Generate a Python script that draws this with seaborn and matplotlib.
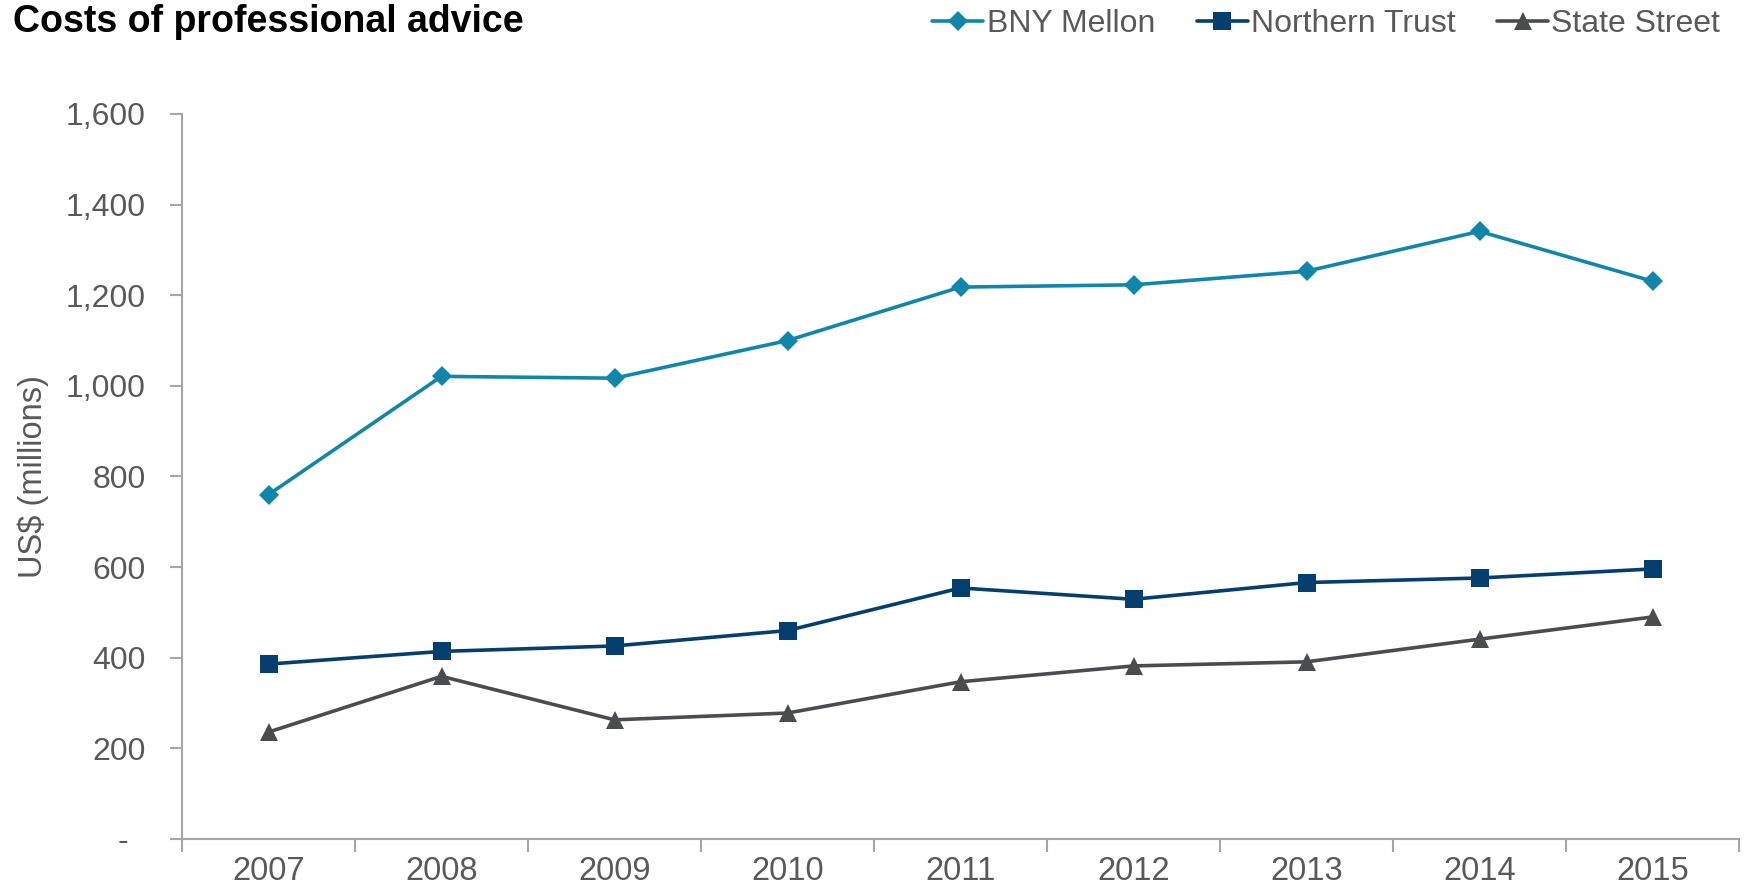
import pandas as pd
import matplotlib
matplotlib.use("Agg")
import matplotlib.pyplot as plt
import seaborn as sns
from matplotlib.ticker import FuncFormatter, MultipleLocator

# datos
years = [2007, 2008, 2009, 2010, 2011, 2012, 2013, 2014, 2015]
bny_mellon = [760, 1021, 1017, 1100, 1218, 1223, 1253, 1341, 1231]
northern_trust = [386, 414, 426, 460, 554, 529, 566, 576, 596]
state_street = [236, 359, 263, 278, 347, 382, 391, 441, 490]
banks = ["BNY Mellon", "Northern Trust", "State Street"]

df = pd.DataFrame({
    "year": years * 3,
    "value": bny_mellon + northern_trust + state_street,
    "bank": [b for b in banks for _ in years],
})

colors = {"BNY Mellon": "#0f87ad", "Northern Trust": "#053f70", "State Street": "#4b4c50"}
markers = {"BNY Mellon": "D", "Northern Trust": "s", "State Street": "^"}
sizes_mk = {"BNY Mellon": 10.5, "Northern Trust": 12.5, "State Street": 13}

sns.set_style("white")
plt.rcParams["font.family"] = ["Liberation Sans", "DejaVu Sans"]

fig = plt.figure(figsize=(17.5, 8.94), dpi=100)
ax = fig.add_axes([182 / 1750, 1 - 839 / 894, (1739 - 182) / 1750, (839 - 114) / 894])

for bank in banks:
    sns.lineplot(
        data=df[df["bank"] == bank], x="year", y="value",
        color=colors[bank], marker=markers[bank], markersize=sizes_mk[bank],
        markeredgewidth=0, linewidth=2.6, label=bank, ax=ax,
    )

gray_txt = "#595959"
ax.set_xlim(years[0] - 0.5, years[-1] + 0.5)
ax.set_ylim(0, 1600)
ax.yaxis.set_major_locator(MultipleLocator(200))
ax.yaxis.set_major_formatter(FuncFormatter(lambda v, p: "-  " if v == 0 else f"{v:,.0f}"))

# ticks en los limites de categoria, etiquetas en el centro
ax.set_xticks([y - 0.5 for y in years] + [years[-1] + 0.5])
ax.set_xticklabels([])
ax.set_xticks(years, minor=True)
ax.set_xticklabels([str(y) for y in years], minor=True)
ax.tick_params(axis="x", which="major", bottom=True, direction="out", length=9, width=1.5, color="#a6a6a6")
ax.tick_params(axis="x", which="minor", bottom=True, length=0, labelsize=23.5, labelcolor=gray_txt, pad=12)
ax.tick_params(axis="y", left=True, direction="out", length=9, width=1.5, color="#a6a6a6",
               labelsize=23, labelcolor=gray_txt, pad=17)

for s in ["top", "right"]:
    ax.spines[s].set_visible(False)
for s in ["left", "bottom"]:
    ax.spines[s].set_color("#a6a6a6")
    ax.spines[s].set_linewidth(1.5)

ax.set_xlabel("")
ax.set_ylabel("US$ (millions)", fontsize=23.5, color=gray_txt, labelpad=12)

fig.text(13 / 1750, 1 - 22 / 894, "Costs of professional advice", fontsize=27,
         fontweight="bold", color="black", va="center", ha="left")

leg = ax.legend(loc="upper right", bbox_to_anchor=(1733 / 1750, 1 + 4 / 894), bbox_transform=fig.transFigure,
                ncol=3, frameon=False, fontsize=23, handlelength=1.6, handletextpad=0.1,
                columnspacing=1.3, borderaxespad=0)
for t in leg.get_texts():
    t.set_color(gray_txt)

fig.savefig("out.png", dpi=100)
